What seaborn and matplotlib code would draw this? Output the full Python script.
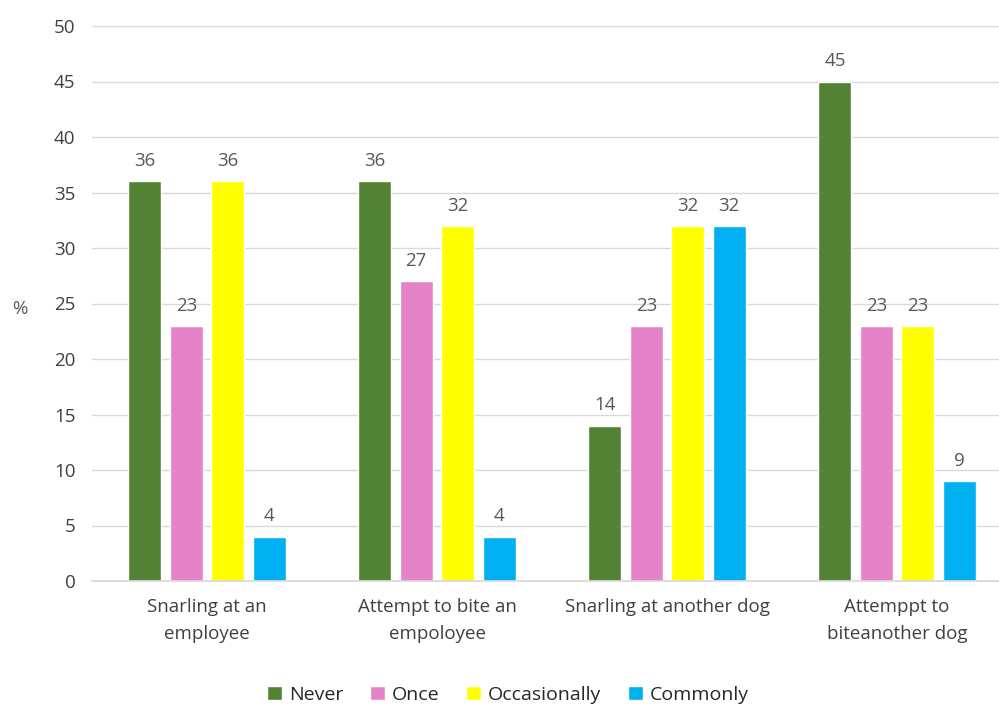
import matplotlib
matplotlib.use("Agg")
import matplotlib.pyplot as plt
import seaborn as sns
import pandas as pd

categories = ["Snarling at an\nemployee", "Attempt to bite an\nempoloyee",
              "Snarling at another dog", "Attemppt to\nbiteanother dog"]
series = ["Never", "Once", "Occasionally", "Commonly"]
never = [36, 36, 14, 45]
once = [23, 27, 23, 23]
occasionally = [36, 32, 32, 23]
commonly = [4, 4, 32, 9]
colors = ["#548235", "#E683C8", "#FFFF00", "#00B0F0"]

rows = []
for s, vals in zip(series, [never, once, occasionally, commonly]):
    for c, v in zip(categories, vals):
        rows.append({"category": c, "series": s, "value": v})
df = pd.DataFrame(rows)

sns.set_theme(style="white")
plt.rcParams["font.family"] = ["Open Sans", "DejaVu Sans"]

fig = plt.figure(figsize=(9.99, 7.06), dpi=100)
ax = fig.add_axes([92/999, 125/706, (999-92)/999, 555/706])

sns.barplot(data=df, x="category", y="value", hue="series", hue_order=series,
            order=categories, palette=colors, width=0.72, gap=0.2,
            saturation=1, ax=ax, legend=True)

for cont in ax.containers:
    ax.bar_label(cont, padding=8, fontsize=13.5, color="#595959")

ax.set_ylim(0, 50)
ax.set_yticks(range(0, 51, 5))
ax.set_xlim(-0.5, -0.5 + 907/230)
ax.grid(axis="y", color="#D9D9D9", linewidth=1)
ax.set_axisbelow(True)
for sp in ["top", "right", "left"]:
    ax.spines[sp].set_visible(False)
ax.spines["bottom"].set_color("#D9D9D9")
ax.tick_params(axis="both", length=0, labelsize=13.5, colors="#404040")
ax.tick_params(axis="y", pad=12)
ax.tick_params(axis="x", pad=12)
for t in ax.get_xticklabels():
    t.set_linespacing(1.65)
ax.set_xlabel("")
ax.set_ylabel("%", rotation=0, fontsize=13.5, color="#595959", va="center")
ax.yaxis.set_label_coords(-0.080, 0.49)

leg = ax.legend(loc="center", bbox_to_anchor=((508 - 92) / 907, -0.205),
                ncol=4, frameon=False, fontsize=14, handlelength=0.75,
                handleheight=0.75, handletextpad=0.35, columnspacing=1.4)
for t in leg.get_texts():
    t.set_color("#262626")

fig.savefig("out.png", dpi=100)
